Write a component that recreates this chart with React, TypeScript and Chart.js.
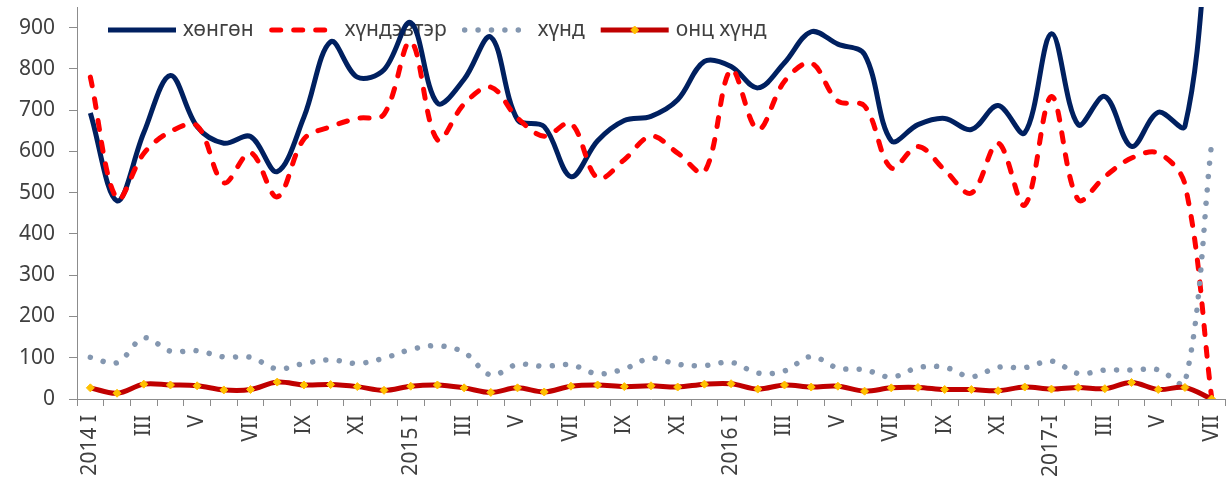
import React, { useEffect, useRef } from 'react';
import { Chart, registerables } from 'chart.js';

Chart.register(...registerables);

const FONT = "'Noto Sans', 'DejaVu Sans', sans-serif";
const TEXT = '#404040';
const AXIS = '#8c8c8c';

const months = [
  '2014 I', 'II', 'III', 'IV', 'V', 'VI', 'VII', 'VIII', 'IX', 'X', 'XI', 'XII',
  '2015 I', 'II', 'III', 'IV', 'V', 'VI', 'VII', 'VIII', 'IX', 'X', 'XI', 'XII',
  '2016 I', 'II', 'III', 'IV', 'V', 'VI', 'VII', 'VIII', 'IX', 'X', 'XI', 'XII',
  '2017-I', 'II', 'III', 'IV', 'V', 'VI', 'VII',
];

const seriesNames = ['хөнгөн', 'хүндэвтэр', 'хүнд', 'онц хүнд'];

const khongon = [693, 480, 645, 784, 660, 620, 636, 551, 683, 866, 780, 798, 912, 717, 775, 877, 677, 660, 539, 626, 675, 685, 725, 818, 806, 754, 815, 890, 860, 835, 626, 665, 680, 653, 711, 645, 885, 665, 733, 612, 695, 661, 1250];
const khundevter = [780, 485, 595, 648, 662, 524, 597, 490, 630, 660, 680, 690, 866, 628, 715, 756, 681, 637, 668, 535, 580, 637, 596, 550, 798, 653, 770, 814, 722, 710, 560, 612, 555, 499, 620, 470, 733, 483, 539, 584, 596, 520, 3];
const khund = [101, 88, 148, 116, 117, 102, 101, 73, 86, 95, 86, 99, 120, 129, 113, 58, 84, 79, 83, 61, 73, 99, 84, 81, 89, 63, 68, 103, 75, 71, 53, 76, 77, 54, 77, 76, 92, 62, 70, 70, 71, 40, 620];
const ontsKhund = [27, 14, 36, 34, 32, 22, 23, 41, 34, 35, 30, 21, 31, 34, 27, 16, 27, 17, 31, 34, 30, 32, 29, 36, 37, 24, 34, 29, 31, 19, 27, 28, 23, 23, 20, 29, 24, 28, 25, 40, 23, 28, 0];

const yTickValues = [0, 100, 200, 300, 400, 500, 600, 700, 800, 900];

const legendPlugin = {
  id: 'customLegend',
  beforeDatasetsDraw(chart: any) {
    const ctx = chart.ctx as CanvasRenderingContext2D;
    ctx.save();
    ctx.font = `21px ${FONT}`;
    ctx.textBaseline = 'middle';
    const y = 30;
    let x = 108;
    const sampleW = 68;
    chart.data.datasets.forEach((ds: any) => {
      ctx.beginPath();
      ctx.lineWidth = ds.borderWidth;
      ctx.strokeStyle = ds.borderColor;
      ctx.setLineDash(ds.borderDash || []);
      ctx.lineCap = ds.borderCapStyle || 'butt';
      ctx.moveTo(x + (ds.borderCapStyle === 'round' ? 2 : 0), y);
      ctx.lineTo(x + sampleW, y);
      ctx.stroke();
      ctx.setLineDash([]);
      if (ds.pointRadius > 0) {
        const r = ds.pointRadius;
        const cx = x + sampleW / 2;
        ctx.beginPath();
        ctx.fillStyle = ds.pointBackgroundColor;
        ctx.moveTo(cx, y - r);
        ctx.lineTo(cx + r, y);
        ctx.lineTo(cx, y + r);
        ctx.lineTo(cx - r, y);
        ctx.closePath();
        ctx.fill();
        ctx.lineWidth = 1;
        ctx.strokeStyle = ds.pointBorderColor;
        ctx.stroke();
      }
      x += sampleW + 7;
      ctx.fillStyle = TEXT;
      ctx.textAlign = 'left';
      ctx.fillText(ds.label, x, y);
      x += ctx.measureText(ds.label).width + 16;
    });
    ctx.restore();
  },
};

export default function App() {
  const canvasRef = useRef<HTMLCanvasElement | null>(null);

  useEffect(() => {
    if (!canvasRef.current) return;
    const chart = new Chart(canvasRef.current, {
      type: 'line',
      data: {
        labels: months,
        datasets: [
          {
            label: seriesNames[0],
            data: khongon,
            borderColor: '#002060',
            borderWidth: 5,
            pointRadius: 0,
            tension: 0.35,
            order: 4,
          },
          {
            label: seriesNames[1],
            data: khundevter,
            borderColor: '#FF0000',
            borderWidth: 5,
            borderDash: [9, 13],
            borderCapStyle: 'round',
            pointRadius: 0,
            tension: 0.35,
            order: 3,
          },
          {
            label: seriesNames[2],
            data: khund,
            borderColor: '#8497B0',
            borderWidth: 5.5,
            borderDash: [0.01, 13.4],
            borderCapStyle: 'round',
            pointRadius: 0,
            tension: 0.35,
            order: 2,
          },
          {
            label: seriesNames[3],
            data: ontsKhund,
            borderColor: '#C00000',
            borderWidth: 5,
            pointRadius: 4,
            pointStyle: 'rectRot',
            pointBackgroundColor: '#FFC000',
            pointBorderColor: '#FFC000',
            pointBorderWidth: 1,
            tension: 0.35,
            order: 1,
          },
        ] as any,
      },
      options: {
        animation: false,
        responsive: true,
        maintainAspectRatio: false,
        layout: { padding: { top: 7, right: 7, left: 0, bottom: 0 } },
        elements: { line: { capBezierPoints: false } as any },
        plugins: {
          legend: { display: false },
          tooltip: { enabled: false },
        },
        scales: {
          x: {
            type: 'category',
            offset: true,
            grid: {
              display: true,
              drawOnChartArea: false,
              drawTicks: true,
              tickLength: 7,
              color: AXIS,
              offset: true,
            },
            border: { display: true, color: AXIS, width: 1 },
            ticks: {
              autoSkip: false,
              minRotation: 90,
              maxRotation: 90,
              padding: 9,
              color: TEXT,
              font: { family: FONT, size: 21 },
              callback: function (this: any, val: any, index: number) {
                return index % 2 === 0 ? this.getLabelForValue(val) : '';
              },
            },
            afterFit: (scale: any) => {
              scale.height = 88;
              scale.paddingLeft = 0;
              scale.paddingRight = 0;
            },
          },
          y: {
            min: 0,
            max: 950,
            grid: {
              display: true,
              drawOnChartArea: false,
              drawTicks: true,
              tickLength: 8,
              color: AXIS,
            },
            border: { display: true, color: AXIS, width: 1 },
            ticks: {
              stepSize: 100,
              padding: 14,
              color: TEXT,
              font: { family: FONT, size: 21 },
            },
            afterBuildTicks: (scale: any) => {
              scale.ticks = yTickValues.map((v) => ({ value: v }));
            },
            afterFit: (scale: any) => {
              scale.width = 77;
              scale.paddingTop = 0;
              scale.paddingBottom = 0;
            },
          },
        },
      } as any,
      plugins: [legendPlugin],
    });
    return () => chart.destroy();
  }, []);

  return (
    <div style={{ width: 1232, height: 487, position: 'relative', background: '#fff' }}>
      <style>{'body{margin:0;}'}</style>
      <canvas ref={canvasRef} />
    </div>
  );
}
